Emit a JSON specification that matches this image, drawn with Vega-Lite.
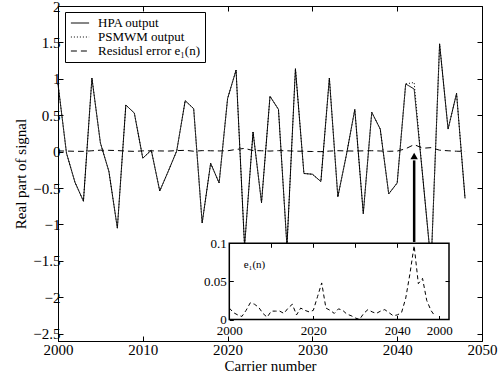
{
  "$schema": "https://vega.github.io/schema/vega-lite/v6.json",
  "width": 424,
  "height": 335,
  "autosize": {"type": "none"},
  "padding": {"left": 58, "top": 6, "right": 22, "bottom": 37},
  "background": "white",
  "config": {
    "font": "Liberation Serif",
    "view": {"stroke": "black", "strokeWidth": 1},
    "axis": {
      "domainColor": "black", "tickColor": "black", "labelColor": "black", "titleColor": "black",
      "grid": false, "labelFont": "Liberation Serif", "titleFont": "Liberation Serif",
      "labelFontSize": 15, "titleFontSize": 15, "titleFontWeight": "normal", "tickSize": -5,
      "labelFlush": false, "labelOverlap": false
    }
  },
  "datasets": {
    "main": [
      {"n": 2000, "h": 0.93, "p": 0.93, "r": 0.010},
      {"n": 2001, "h": -0.02, "p": -0.02, "r": 0.008},
      {"n": 2002, "h": -0.42, "p": -0.42, "r": 0.005},
      {"n": 2003, "h": -0.68, "p": -0.68, "r": 0.004},
      {"n": 2004, "h": 1.01, "p": 1.01, "r": 0.012},
      {"n": 2005, "h": 0.12, "p": 0.12, "r": 0.020},
      {"n": 2006, "h": -0.27, "p": -0.27, "r": 0.018},
      {"n": 2007, "h": -1.05, "p": -1.05, "r": 0.015},
      {"n": 2008, "h": 0.64, "p": 0.64, "r": 0.008},
      {"n": 2009, "h": 0.53, "p": 0.53, "r": 0.004},
      {"n": 2010, "h": -0.09, "p": -0.09, "r": 0.011},
      {"n": 2011, "h": 0.02, "p": 0.02, "r": 0.011},
      {"n": 2012, "h": -0.54, "p": -0.54, "r": 0.010},
      {"n": 2013, "h": -0.27, "p": -0.27, "r": 0.008},
      {"n": 2014, "h": 0.01, "p": 0.01, "r": 0.014},
      {"n": 2015, "h": 0.70, "p": 0.70, "r": 0.018},
      {"n": 2016, "h": 0.59, "p": 0.59, "r": 0.006},
      {"n": 2017, "h": -0.98, "p": -0.98, "r": 0.014},
      {"n": 2018, "h": -0.16, "p": -0.16, "r": 0.012},
      {"n": 2019, "h": -0.43, "p": -0.43, "r": 0.010},
      {"n": 2020, "h": 0.73, "p": 0.73, "r": 0.012},
      {"n": 2021, "h": 1.12, "p": 1.12, "r": 0.030},
      {"n": 2022, "h": -1.30, "p": -1.30, "r": 0.045},
      {"n": 2023, "h": 0.27, "p": 0.27, "r": 0.015},
      {"n": 2024, "h": -0.70, "p": -0.70, "r": 0.012},
      {"n": 2025, "h": 0.76, "p": 0.76, "r": 0.008},
      {"n": 2026, "h": 0.58, "p": 0.58, "r": 0.014},
      {"n": 2027, "h": -1.30, "p": -1.30, "r": 0.012},
      {"n": 2028, "h": 1.14, "p": 1.14, "r": 0.007},
      {"n": 2029, "h": -0.30, "p": -0.30, "r": 0.005},
      {"n": 2030, "h": -0.31, "p": -0.31, "r": 0.002},
      {"n": 2031, "h": -0.41, "p": -0.41, "r": 0.000},
      {"n": 2032, "h": 1.01, "p": 1.01, "r": 0.008},
      {"n": 2033, "h": -0.62, "p": -0.62, "r": 0.013},
      {"n": 2034, "h": -0.05, "p": -0.05, "r": 0.010},
      {"n": 2035, "h": 0.58, "p": 0.58, "r": 0.008},
      {"n": 2036, "h": -0.85, "p": -0.85, "r": 0.011},
      {"n": 2037, "h": 0.54, "p": 0.54, "r": 0.013},
      {"n": 2038, "h": 0.31, "p": 0.31, "r": 0.009},
      {"n": 2039, "h": -0.58, "p": -0.58, "r": 0.005},
      {"n": 2040, "h": -0.43, "p": -0.43, "r": 0.008},
      {"n": 2041, "h": 0.93, "p": 0.93, "r": 0.040},
      {"n": 2042, "h": 0.86, "p": 0.95, "r": 0.097},
      {"n": 2043, "h": -0.33, "p": -0.33, "r": 0.047},
      {"n": 2044, "h": -1.55, "p": -1.55, "r": 0.055},
      {"n": 2045, "h": 1.48, "p": 1.48, "r": 0.020},
      {"n": 2046, "h": 0.31, "p": 0.31, "r": 0.012},
      {"n": 2047, "h": 0.80, "p": 0.80, "r": 0.006},
      {"n": 2048, "h": -0.64, "p": -0.64, "r": 0.003}
    ],
    "inset": [
      {"k": 2000, "e": 0.015}, {"k": 2001, "e": 0.009}, {"k": 2002, "e": 0.006}, {"k": 2003, "e": 0.004},
      {"k": 2004, "e": 0.012}, {"k": 2005, "e": 0.022}, {"k": 2006, "e": 0.020}, {"k": 2007, "e": 0.016},
      {"k": 2008, "e": 0.008}, {"k": 2009, "e": 0.003}, {"k": 2010, "e": 0.011}, {"k": 2011, "e": 0.011},
      {"k": 2012, "e": 0.011}, {"k": 2013, "e": 0.008}, {"k": 2014, "e": 0.015}, {"k": 2015, "e": 0.020},
      {"k": 2016, "e": 0.006}, {"k": 2017, "e": 0.015}, {"k": 2018, "e": 0.012}, {"k": 2019, "e": 0.010},
      {"k": 2020, "e": 0.012}, {"k": 2021, "e": 0.030}, {"k": 2022, "e": 0.048}, {"k": 2023, "e": 0.015},
      {"k": 2024, "e": 0.012}, {"k": 2025, "e": 0.008}, {"k": 2026, "e": 0.014}, {"k": 2027, "e": 0.012},
      {"k": 2028, "e": 0.007}, {"k": 2029, "e": 0.005}, {"k": 2030, "e": 0.002}, {"k": 2031, "e": 0.000},
      {"k": 2032, "e": 0.008}, {"k": 2033, "e": 0.013}, {"k": 2034, "e": 0.010}, {"k": 2035, "e": 0.008},
      {"k": 2036, "e": 0.011}, {"k": 2037, "e": 0.013}, {"k": 2038, "e": 0.009}, {"k": 2039, "e": 0.005},
      {"k": 2040, "e": 0.006}, {"k": 2041, "e": 0.009}, {"k": 2042, "e": 0.028}, {"k": 2043, "e": 0.060},
      {"k": 2044, "e": 0.097}, {"k": 2045, "e": 0.047}, {"k": 2046, "e": 0.054}, {"k": 2047, "e": 0.025},
      {"k": 2048, "e": 0.012}, {"k": 2049, "e": 0.004}
    ]
  },
  "layer": [
    {
      "layer": [
        {
          "data": {"name": "main"},
          "transform": [{"fold": ["p", "h", "r"], "as": ["series", "value"]}],
          "mark": {"type": "line", "strokeWidth": 1, "color": "black"},
          "encoding": {
            "x": {"field": "n", "type": "quantitative",
              "scale": {"domain": [2000, 2050], "nice": false},
              "axis": {"orient": "bottom", "values": [2000, 2010, 2020, 2030, 2040, 2050], "format": "d",
                "title": "Carrier number", "labelPadding": 6, "titlePadding": 1}},
            "y": {"field": "value", "type": "quantitative",
              "scale": {"domain": [-2.6, 2], "nice": false, "zero": false},
              "axis": {"orient": "left", "values": [-2.5, -2, -1.5, -1, -0.5, 0, 0.5, 1, 1.5, 2], "format": "~g",
                "title": "Real part of signal", "labelPadding": 3, "titlePadding": 4, "labelAlign": "right"}},
            "strokeDash": {"field": "series", "type": "nominal",
              "scale": {"domain": ["h", "p", "r"], "range": [[1, 0], [1, 2], [6, 4]]},
              "legend": {
                "orient": "none", "legendX": 7, "legendY": 6, "title": null,
                "symbolType": "M-1.4,0H1.4", "symbolSize": 169, "symbolStrokeColor": "black",
                "symbolStrokeWidth": 1, "symbolOffset": 4,
                "labelFont": "Liberation Serif", "labelFontSize": 13, "labelColor": "black",
                "labelOffset": 11, "labelLimit": 200,
                "strokeColor": "black", "fillColor": "white", "padding": 4, "rowPadding": 0,
                "labelExpr": "datum.value == 'h' ? 'HPA output' : datum.value == 'p' ? 'PSMWM output' : '\u00a0Residusl error e₁(n)'"
              }
            }
          }
        },
        {
          "data": {"values": [{}]},
          "mark": {"type": "rule", "strokeWidth": 2.5, "color": "black"},
          "encoding": {
            "x": {"datum": 2042, "type": "quantitative",
              "axis": {"orient": "top", "labels": false, "title": null, "domain": false,
                "values": [2000, 2010, 2020, 2030, 2040, 2050]}},
            "y": {"datum": -1.24, "type": "quantitative",
              "axis": {"orient": "right", "labels": false, "title": null, "domain": false,
                "values": [-2.5, -2, -1.5, -1, -0.5, 0, 0.5, 1, 1.5, 2]}},
            "y2": {"datum": -0.12}
          }
        },
        {
          "data": {"values": [{}]},
          "mark": {"type": "point", "shape": "triangle-up", "filled": true, "size": 55, "color": "black", "opacity": 1},
          "encoding": {
            "x": {"datum": 2042, "type": "quantitative", "axis": null},
            "y": {"datum": -0.06, "type": "quantitative", "axis": null}
          }
        }
      ]
    },
    {
      "layer": [
        {
          "data": {"values": [{}]},
          "mark": {"type": "rect", "fill": "white", "stroke": "black", "strokeWidth": 1.5},
          "encoding": {
            "x": {"datum": 2000, "type": "quantitative",
              "scale": {"domain": [2000, 2052.3], "range": [171.3, 391], "nice": false, "zero": false},
              "axis": {"orient": "bottom", "offset": -21.5, "values": [2000, 2020, 2040, 2050],
                "labelExpr": "datum.value == 2050 ? '2000' : format(datum.value, 'd')",
                "title": null, "domain": false, "labelFontSize": 13, "tickSize": -4, "labelPadding": 9, "zindex": 1}},
            "x2": {"datum": 2052.3},
            "y": {"datum": 0, "type": "quantitative",
              "scale": {"domain": [0, 0.1], "range": [313.5, 237.3], "nice": false, "zero": false},
              "axis": {"orient": "left", "offset": -171.3, "values": [0, 0.05, 0.1], "format": "~g",
                "title": null, "domain": false, "labelFontSize": 13, "tickSize": -4, "labelPadding": 7,
                "labelAlign": "right", "zindex": 1}},
            "y2": {"datum": 0.1}
          }
        },
        {
          "data": {"name": "inset"},
          "mark": {"type": "line", "strokeDash": [4, 3], "strokeWidth": 1, "color": "black"},
          "encoding": {
            "x": {"field": "k", "type": "quantitative",
              "scale": {"domain": [2000, 2052.3], "range": [171.3, 391], "nice": false, "zero": false}, "axis": null},
            "y": {"field": "e", "type": "quantitative",
              "scale": {"domain": [0, 0.1], "range": [313.5, 237.3], "nice": false, "zero": false}, "axis": null}
          }
        },
        {
          "data": {"values": [{}]},
          "mark": {"type": "text", "text": "e₁(n)", "font": "Liberation Serif", "fontSize": 11, "color": "black"},
          "encoding": {
            "x": {"datum": 2006, "type": "quantitative",
              "axis": {"orient": "top", "offset": -237.3, "values": [2010, 2020, 2030, 2040], "labels": false,
                "title": null, "domain": false, "tickSize": -4, "zindex": 1}},
            "y": {"datum": 0.072, "type": "quantitative",
              "axis": {"orient": "right", "offset": -33, "values": [0.05], "labels": false,
                "title": null, "domain": false, "tickSize": -4, "zindex": 1}}
          }
        }
      ]
    }
  ],
  "resolve": {"scale": {"x": "independent", "y": "independent", "strokeDash": "independent"}}
}
